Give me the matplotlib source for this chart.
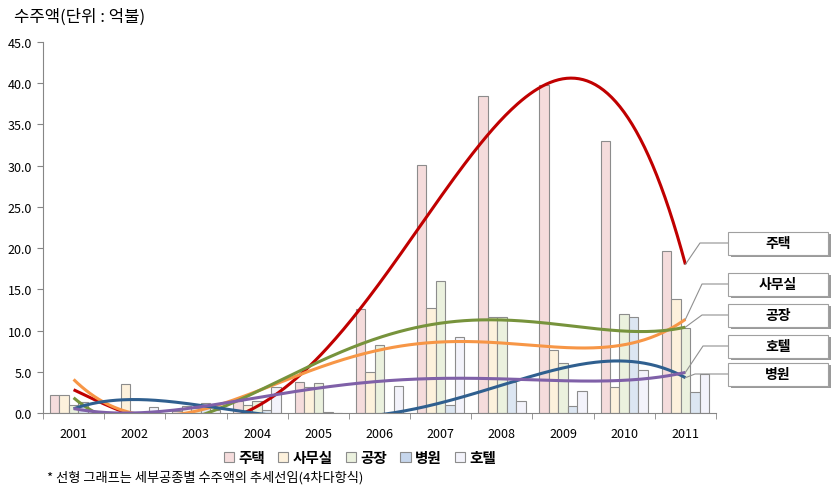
import numpy as np
import matplotlib.pyplot as plt
from matplotlib.patches import Rectangle, Patch
from matplotlib.lines import Line2D

plt.rcParams['font.family'] = ['Noto Sans CJK KR', 'DejaVu Sans']

years = ['2001', '2002', '2003', '2004', '2005', '2006', '2007', '2008', '2009', '2010', '2011']
names = ['주택', '사무실', '공장', '병원', '호텔']
housing = [2.2, 0.0, 0.3, 1.4, 3.7, 12.6, 30.1, 38.4, 39.8, 33.0, 19.7]
office = [2.2, 3.5, 0.9, 1.0, 3.1, 5.0, 12.7, 11.7, 7.7, 3.1, 13.8]
factory = [1.0, 0.0, 0.6, 1.5, 3.6, 8.3, 16.0, 11.7, 6.1, 12.0, 10.3]
hospital = [1.3, 0.0, 1.2, 0.4, 0.1, 0.0, 1.0, 3.8, 0.9, 11.7, 2.5]
hotel = [0.2, 0.7, 0.4, 3.2, 0.0, 3.3, 9.2, 1.5, 2.7, 5.2, 4.7]
series = [housing, office, factory, hospital, hotel]

bar_colors = ['#f5dcdc', '#fdf1dc', '#ebf1de', '#dce6f2', '#f3f3fb']
line_colors = ['#c00000', '#f79646', '#77933c', '#2f5f8f', '#7f60a8']

W, H = 831, 489
fig = plt.figure(figsize=(W / 100, H / 100), dpi=100)
ax = fig.add_axes([43 / W, 1 - 414 / H, (716 - 43) / W, (414 - 43) / H])

x = np.arange(len(years))
bw = 0.155
for i, vals in enumerate(series):
    ax.bar(x + (i - 2) * bw, vals, width=bw, color=bar_colors[i],
           edgecolor='#8c8c8c', linewidth=0.8, zorder=2)

# 4th order polynomial trend lines (like Excel)
xs = np.linspace(0, 10, 300)
ends = []
for i, vals in enumerate(series):
    p = np.polyfit(x, vals, 4)
    ys = np.polyval(p, xs)
    ax.plot(xs, ys, color=line_colors[i], lw=2.2, zorder=3, solid_capstyle='butt')
    ends.append(ys[-1])

ax.set_xlim(-0.5, 10.5)
ax.set_ylim(0, 45)
ax.set_yticks(np.arange(0, 46, 5))
ax.set_yticklabels(['%.1f' % v for v in np.arange(0, 46, 5)], fontsize=9)
ax.set_xticks(x)
ax.set_xticklabels(years, fontsize=9)
ax.set_xticks(np.arange(-0.5, 11, 1), minor=True)
ax.tick_params(axis='x', which='major', length=0, pad=10)
ax.tick_params(axis='x', which='minor', length=4, color='#868686')
ax.tick_params(axis='y', length=4, color='#868686', pad=4)
for s in ['top', 'right']:
    ax.spines[s].set_visible(False)
for s in ['left', 'bottom']:
    ax.spines[s].set_color('#868686')

fig.text(14 / W, 1 - 17 / H, '수주액(단위 : 억불)', fontsize=12, va='center', ha='left')
fig.text(47 / W, 1 - 478 / H, '* 선형 그래프는 세부공종별 수주액의 추세선임(4차다항식)',
         fontsize=9.5, va='center', ha='left')

handles = [Patch(facecolor=bar_colors[i], edgecolor='#8c8c8c', lw=0.8) for i in range(5)]
handles[3] = Patch(facecolor='#c6d6ec', edgecolor='#8c8c8c', lw=0.8)
fig.legend(handles, names, loc='center', bbox_to_anchor=(360 / W, 1 - 458 / H), ncol=5,
           frameon=False, handlelength=0.7, handleheight=0.7, handletextpad=0.3,
           columnspacing=0.9, prop={'size': 10.5, 'weight': 'bold'})

# callout boxes
labels = ['주택', '사무실', '공장', '호텔', '병원']
centers = [244, 285, 316, 347, 375]
idx = [0, 1, 2, 4, 3]
elbows = [700, 702, 702, 703, 695]
for lab, yc, k, ex in zip(labels, centers, idx, elbows):
    fig.patches.append(Rectangle(((728 + 3) / W, 1 - (yc + 12 + 2) / H), 100 / W, 23 / H,
                                 transform=fig.transFigure, facecolor='#9a9a9a',
                                 edgecolor='none', zorder=1))
    fig.patches.append(Rectangle((728 / W, 1 - (yc + 12) / H), 100 / W, 23 / H,
                                 transform=fig.transFigure, facecolor='white',
                                 edgecolor='#a0a0a0', lw=0.8, zorder=2))
    fig.text(778 / W, 1 - yc / H, lab, fontsize=10, weight='bold', ha='center', va='center',
             zorder=3)
    px, py = ax.transData.transform((10, ends[k]))
    fig.add_artist(Line2D([728 / W, ex / W, px / W], [1 - yc / H, 1 - yc / H, py / H],
                          transform=fig.transFigure, color='#909090', lw=0.8))

fig.savefig('out.png', dpi=100)
